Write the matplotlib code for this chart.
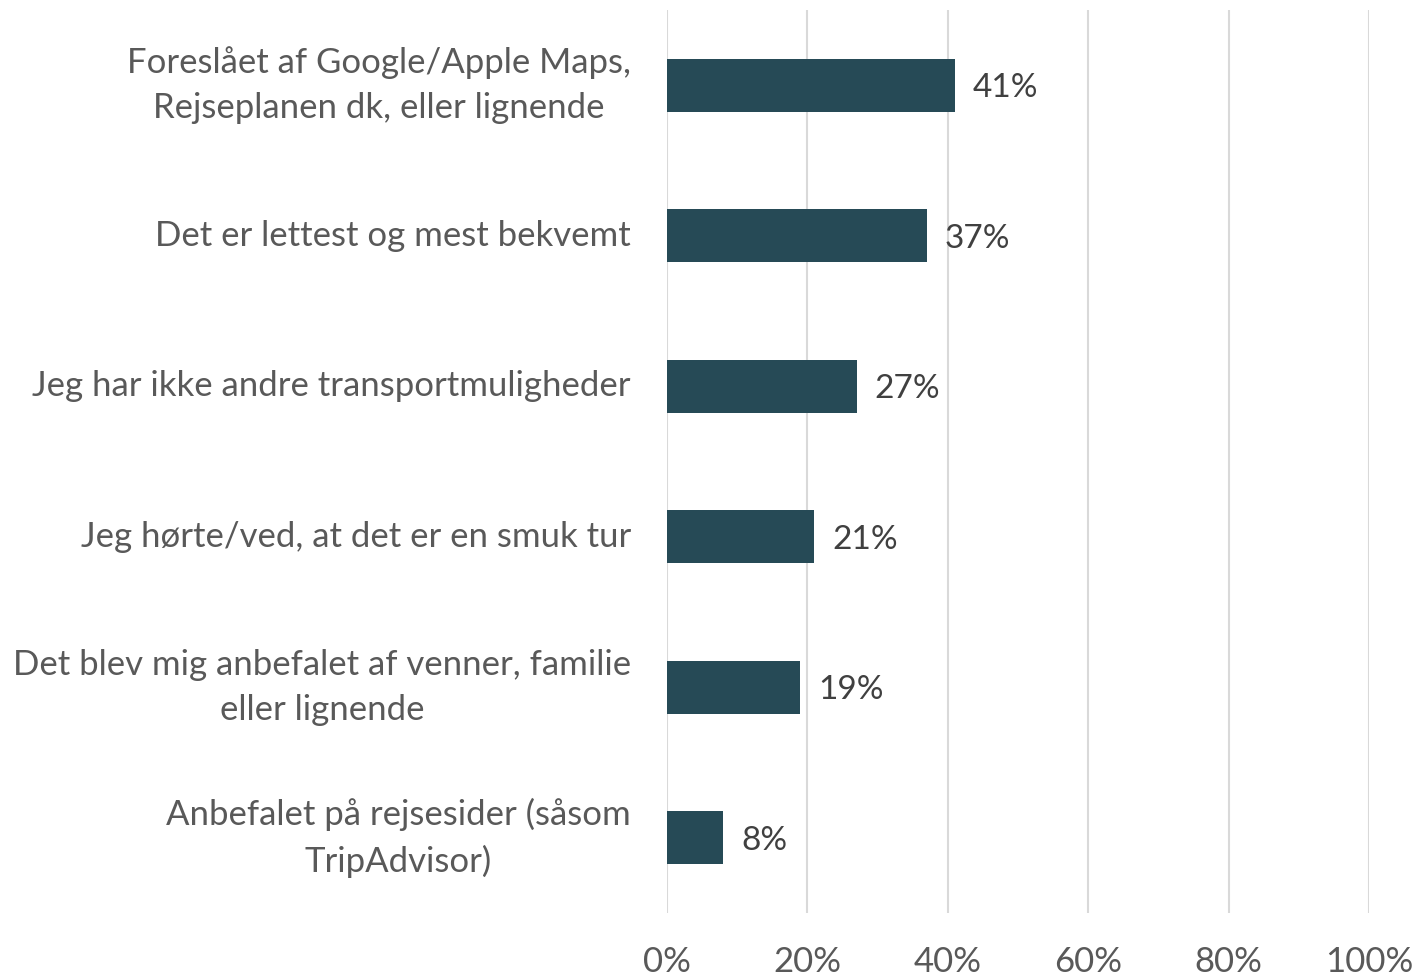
import matplotlib
matplotlib.use("Agg")
import matplotlib.pyplot as plt
from matplotlib.ticker import FuncFormatter

categories = [
    "Foreslået af Google/Apple Maps,\nRejseplanen dk, eller lignende",
    "Det er lettest og mest bekvemt",
    "Jeg har ikke andre transportmuligheder",
    "Jeg hørte/ved, at det er en smuk tur",
    "Det blev mig anbefalet af venner, familie\neller lignende",
    "Anbefalet på rejsesider (såsom\nTripAdvisor)",
]
values = [41, 37, 27, 21, 19, 8]
xticks = [0, 20, 40, 60, 80, 100]

plt.rcParams['font.family'] = ['Lato', 'DejaVu Sans']
text_color = "#595959"
bar_color = "#264a56"

fig = plt.figure(figsize=(14.17, 9.76), dpi=100)
ax = fig.add_axes([667/1417, 1-913/976, (1369-667)/1417, (913-10)/976])

y = list(range(len(categories)))
ax.barh(y, values, height=0.35, color=bar_color, zorder=3)
ax.set_ylim(len(categories)-0.5, -0.5)
ax.set_xlim(0, 100)
ax.set_xticks(xticks)
ax.xaxis.set_major_formatter(FuncFormatter(lambda v, p: f"{int(v)}%"))
ax.set_yticks(y)
ax.set_yticklabels(categories, ha='right', va='center', multialignment='center', linespacing=1.5)
ax.tick_params(axis='x', length=0, pad=24, labelsize=25, colors=text_color)
ax.tick_params(axis='y', length=0, pad=26, labelsize=25, colors=text_color)
ax.grid(axis='x', color='#d9d9d9', linewidth=1.5, zorder=0)
for s in ax.spines.values():
    s.set_visible(False)

for yi, v in zip(y, values):
    ax.annotate(f"{v}%", (v, yi), xytext=(13, -2), textcoords='offset points',
                va='center', ha='left', fontsize=24, color='#404040')

fig.savefig("out.png", dpi=100)
